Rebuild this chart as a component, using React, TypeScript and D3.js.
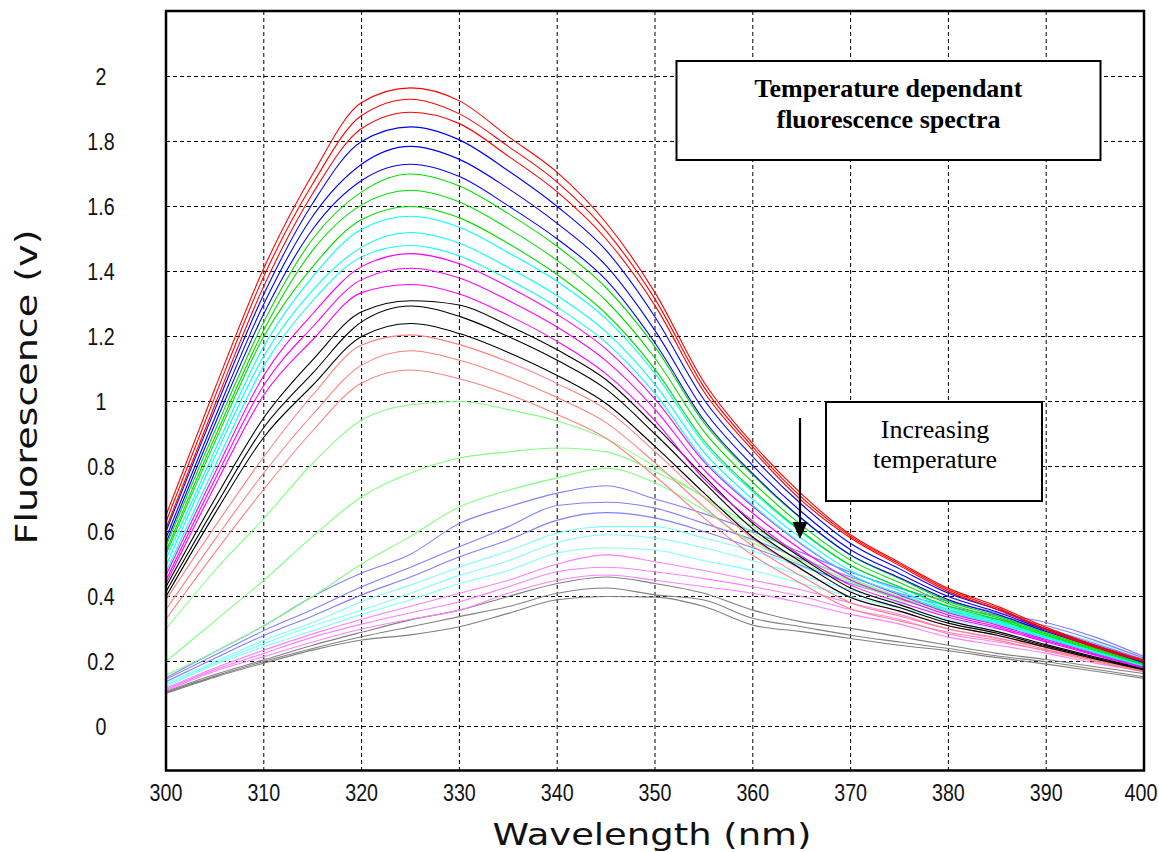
import React from 'react';
import * as d3 from 'd3';

// wavelength samples (nm)
const wavelengths = [300, 305, 310, 315, 320, 325, 330, 335, 340, 345, 350, 355, 360, 365, 370, 375, 380, 385, 390, 395, 400];

const xTicks = [300, 310, 320, 330, 340, 350, 360, 370, 380, 390, 400];
const yTicks = [0, 0.2, 0.4, 0.6, 0.8, 1, 1.2, 1.4, 1.6, 1.8, 2];
const yTickLabels = ['0', '0.2', '0.4', '0.6', '0.8', '1', '1.2', '1.4', '1.6', '1.8', '2'];

// spectra, lowest temperature first
const red1 = [0.65, 1.04, 1.41, 1.70, 1.92, 1.965, 1.925, 1.815, 1.705, 1.55, 1.335, 1.06, 0.87, 0.715, 0.59, 0.505, 0.425, 0.37, 0.305, 0.25, 0.205];
const red2 = [0.63, 1.015, 1.385, 1.67, 1.88, 1.93, 1.885, 1.785, 1.675, 1.525, 1.315, 1.045, 0.86, 0.705, 0.585, 0.50, 0.42, 0.365, 0.30, 0.246, 0.202];
const red3 = [0.61, 0.99, 1.355, 1.64, 1.84, 1.89, 1.855, 1.755, 1.645, 1.50, 1.295, 1.03, 0.85, 0.695, 0.58, 0.495, 0.415, 0.36, 0.297, 0.243, 0.2];
const blue1 = [0.60, 0.975, 1.33, 1.61, 1.80, 1.845, 1.805, 1.71, 1.60, 1.465, 1.26, 1.006, 0.83, 0.683, 0.563, 0.485, 0.41, 0.36, 0.30, 0.25, 0.2];
const blue2 = [0.58, 0.95, 1.30, 1.57, 1.73, 1.785, 1.745, 1.655, 1.548, 1.418, 1.218, 0.973, 0.803, 0.66, 0.544, 0.47, 0.40, 0.352, 0.296, 0.247, 0.198];
const blue3 = [0.565, 0.93, 1.27, 1.53, 1.68, 1.73, 1.692, 1.602, 1.50, 1.374, 1.18, 0.943, 0.778, 0.64, 0.528, 0.458, 0.39, 0.345, 0.292, 0.244, 0.196];
const green1 = [0.555, 0.91, 1.245, 1.50, 1.645, 1.70, 1.663, 1.578, 1.477, 1.35, 1.168, 0.935, 0.774, 0.638, 0.527, 0.455, 0.385, 0.34, 0.288, 0.24, 0.194];
const green2 = [0.54, 0.89, 1.22, 1.465, 1.605, 1.65, 1.614, 1.532, 1.434, 1.31, 1.133, 0.908, 0.751, 0.619, 0.512, 0.443, 0.378, 0.335, 0.284, 0.237, 0.192];
const green3 = [0.53, 0.875, 1.20, 1.415, 1.56, 1.60, 1.565, 1.486, 1.39, 1.27, 1.099, 0.88, 0.728, 0.60, 0.496, 0.43, 0.37, 0.33, 0.28, 0.234, 0.19];
const cyan1 = [0.515, 0.85, 1.17, 1.384, 1.53, 1.57, 1.536, 1.458, 1.369, 1.254, 1.086, 0.871, 0.722, 0.597, 0.495, 0.428, 0.366, 0.325, 0.277, 0.231, 0.189];
const cyan2 = [0.495, 0.83, 1.14, 1.343, 1.475, 1.52, 1.487, 1.412, 1.325, 1.214, 1.052, 0.844, 0.699, 0.578, 0.479, 0.418, 0.36, 0.32, 0.274, 0.229, 0.187];
const cyan3 = [0.475, 0.80, 1.11, 1.31, 1.445, 1.48, 1.448, 1.376, 1.29, 1.181, 1.024, 0.821, 0.681, 0.562, 0.466, 0.408, 0.354, 0.316, 0.271, 0.227, 0.186];
const magenta1 = [0.465, 0.78, 1.08, 1.27, 1.415, 1.455, 1.424, 1.353, 1.268, 1.161, 1.007, 0.815, 0.677, 0.56, 0.466, 0.405, 0.35, 0.312, 0.268, 0.225, 0.184];
const magenta2 = [0.45, 0.76, 1.05, 1.23, 1.375, 1.41, 1.38, 1.311, 1.229, 1.125, 0.976, 0.79, 0.656, 0.543, 0.451, 0.395, 0.343, 0.307, 0.264, 0.222, 0.182];
const magenta3 = [0.44, 0.74, 1.02, 1.19, 1.335, 1.36, 1.331, 1.265, 1.185, 1.085, 0.941, 0.762, 0.632, 0.524, 0.435, 0.383, 0.336, 0.302, 0.26, 0.219, 0.18];
const black1 = [0.43, 0.70, 0.95, 1.128, 1.276, 1.31, 1.297, 1.234, 1.159, 1.067, 0.925, 0.771, 0.625, 0.519, 0.426, 0.375, 0.325, 0.292, 0.252, 0.214, 0.178];
const black2 = [0.415, 0.675, 0.92, 1.087, 1.245, 1.294, 1.262, 1.2, 1.127, 1.038, 0.9, 0.751, 0.608, 0.505, 0.414, 0.366, 0.318, 0.287, 0.248, 0.211, 0.176];
const black3 = [0.40, 0.655, 0.89, 1.05, 1.20, 1.24, 1.209, 1.151, 1.08, 0.994, 0.862, 0.719, 0.583, 0.484, 0.397, 0.355, 0.31, 0.281, 0.244, 0.208, 0.174];
const salmon1 = [0.39, 0.615, 0.83, 1.02, 1.174, 1.205, 1.175, 1.122, 1.055, 0.975, 0.846, 0.705, 0.578, 0.482, 0.398, 0.355, 0.31, 0.28, 0.242, 0.206, 0.172];
const salmon2 = [0.36, 0.575, 0.78, 0.96, 1.112, 1.156, 1.127, 1.076, 1.012, 0.935, 0.811, 0.676, 0.555, 0.462, 0.381, 0.34, 0.30, 0.273, 0.237, 0.203, 0.17];
const salmon3 = [0.33, 0.535, 0.73, 0.91, 1.057, 1.097, 1.07, 1.022, 0.96, 0.887, 0.77, 0.642, 0.527, 0.439, 0.362, 0.325, 0.29, 0.265, 0.232, 0.2, 0.168];
const lightGreen1 = [0.30, 0.48, 0.64, 0.81, 0.943, 0.99, 1.0, 0.975, 0.94, 0.885, 0.80, 0.705, 0.615, 0.522, 0.455, 0.40, 0.36, 0.325, 0.29, 0.25, 0.20];
const lightGreen2 = [0.20, 0.325, 0.45, 0.585, 0.707, 0.78, 0.826, 0.845, 0.857, 0.845, 0.784, 0.707, 0.595, 0.51, 0.45, 0.395, 0.355, 0.32, 0.285, 0.245, 0.195];
const lightGreen3 = [0.158, 0.23, 0.31, 0.40, 0.50, 0.585, 0.676, 0.727, 0.765, 0.795, 0.75, 0.666, 0.565, 0.50, 0.445, 0.39, 0.35, 0.315, 0.28, 0.24, 0.19];
const lightBlue1 = [0.15, 0.23, 0.31, 0.40, 0.472, 0.53, 0.625, 0.676, 0.718, 0.741, 0.70, 0.655, 0.60, 0.535, 0.475, 0.425, 0.385, 0.35, 0.32, 0.275, 0.215];
const lightBlue2 = [0.145, 0.22, 0.295, 0.36, 0.43, 0.49, 0.553, 0.615, 0.68, 0.69, 0.672, 0.625, 0.575, 0.515, 0.46, 0.41, 0.37, 0.34, 0.31, 0.265, 0.21];
const lightBlue3 = [0.138, 0.21, 0.28, 0.34, 0.405, 0.46, 0.522, 0.574, 0.635, 0.658, 0.642, 0.60, 0.55, 0.495, 0.44, 0.395, 0.355, 0.33, 0.30, 0.255, 0.205];
const lightCyan1 = [0.132, 0.20, 0.265, 0.32, 0.384, 0.435, 0.49, 0.54, 0.595, 0.615, 0.615, 0.58, 0.54, 0.49, 0.44, 0.40, 0.36, 0.33, 0.30, 0.26, 0.21];
const lightCyan2 = [0.127, 0.195, 0.255, 0.31, 0.358, 0.41, 0.465, 0.51, 0.566, 0.59, 0.58, 0.55, 0.51, 0.465, 0.42, 0.38, 0.345, 0.315, 0.285, 0.25, 0.205];
const lightCyan3 = [0.122, 0.19, 0.245, 0.295, 0.345, 0.39, 0.44, 0.48, 0.534, 0.55, 0.543, 0.51, 0.48, 0.44, 0.40, 0.365, 0.33, 0.30, 0.275, 0.24, 0.20];
const lightMagenta1 = [0.118, 0.18, 0.235, 0.285, 0.33, 0.37, 0.41, 0.45, 0.50, 0.528, 0.507, 0.48, 0.45, 0.42, 0.38, 0.345, 0.30, 0.27, 0.245, 0.215, 0.18];
const lightMagenta2 = [0.114, 0.175, 0.225, 0.275, 0.315, 0.35, 0.384, 0.43, 0.476, 0.49, 0.476, 0.455, 0.43, 0.40, 0.36, 0.33, 0.285, 0.26, 0.235, 0.205, 0.175];
const lightMagenta3 = [0.11, 0.17, 0.215, 0.26, 0.30, 0.33, 0.358, 0.41, 0.45, 0.466, 0.45, 0.43, 0.41, 0.38, 0.345, 0.315, 0.275, 0.25, 0.225, 0.195, 0.17];
const gray1 = [0.108, 0.16, 0.205, 0.25, 0.29, 0.328, 0.358, 0.40, 0.44, 0.46, 0.44, 0.41, 0.358, 0.322, 0.302, 0.276, 0.25, 0.225, 0.206, 0.184, 0.163];
const gray2 = [0.105, 0.155, 0.20, 0.24, 0.276, 0.307, 0.338, 0.369, 0.41, 0.426, 0.405, 0.389, 0.333, 0.307, 0.281, 0.26, 0.24, 0.217, 0.199, 0.176, 0.153];
const gray3 = [0.102, 0.152, 0.195, 0.235, 0.266, 0.282, 0.307, 0.348, 0.39, 0.40, 0.398, 0.369, 0.312, 0.292, 0.271, 0.25, 0.233, 0.212, 0.192, 0.17, 0.148];

const series = [
  { group: 'red', values: red1 }, { group: 'red', values: red2 }, { group: 'red', values: red3 },
  { group: 'blue', values: blue1 }, { group: 'blue', values: blue2 }, { group: 'blue', values: blue3 },
  { group: 'green', values: green1 }, { group: 'green', values: green2 }, { group: 'green', values: green3 },
  { group: 'cyan', values: cyan1 }, { group: 'cyan', values: cyan2 }, { group: 'cyan', values: cyan3 },
  { group: 'magenta', values: magenta1 }, { group: 'magenta', values: magenta2 }, { group: 'magenta', values: magenta3 },
  { group: 'black', values: black1 }, { group: 'black', values: black2 }, { group: 'black', values: black3 },
  { group: 'salmon', values: salmon1 }, { group: 'salmon', values: salmon2 }, { group: 'salmon', values: salmon3 },
  { group: 'lightGreen', values: lightGreen1 }, { group: 'lightGreen', values: lightGreen2 }, { group: 'lightGreen', values: lightGreen3 },
  { group: 'lightBlue', values: lightBlue1 }, { group: 'lightBlue', values: lightBlue2 }, { group: 'lightBlue', values: lightBlue3 },
  { group: 'lightCyan', values: lightCyan1 }, { group: 'lightCyan', values: lightCyan2 }, { group: 'lightCyan', values: lightCyan3 },
  { group: 'lightMagenta', values: lightMagenta1 }, { group: 'lightMagenta', values: lightMagenta2 }, { group: 'lightMagenta', values: lightMagenta3 },
  { group: 'gray', values: gray1 }, { group: 'gray', values: gray2 }, { group: 'gray', values: gray3 },
];

const groupColors: Record<string, string> = {
  red: '#ff0000',
  blue: '#0000ff',
  green: '#00e000',
  cyan: '#00ffff',
  magenta: '#ff00ff',
  black: '#000000',
  salmon: '#ff8080',
  lightGreen: '#80ff80',
  lightBlue: '#8080ff',
  lightCyan: '#80ffff',
  lightMagenta: '#ff80ff',
  gray: '#808080',
};

export default function App() {
  const width = 1159;
  const height = 852;
  const left = 166;
  const right = 1144;
  const top = 11;
  const bottom = 770.5;

  const x = d3.scaleLinear().domain([300, 400]).range([left, right]);
  const y = d3.scaleLinear().domain([0, 2]).range([726.5, 76.5]);

  const line = d3
    .line<number>()
    .x((_, i) => x(wavelengths[i]))
    .y((d) => y(d))
    .curve(d3.curveMonotoneX);

  const tickFont = 'Liberation Sans, Arial, sans-serif';
  const titleFont = 'DejaVu Sans, Verdana, sans-serif';
  const serif = 'Liberation Serif, Times New Roman, serif';

  // draw last series first so the red ones end up on top
  const drawOrder = series.slice().reverse();

  return (
    <svg
      width={width}
      height={height}
      style={{ position: 'absolute', left: 0, top: 0, background: '#fff' }}
    >
      <defs>
        <clipPath id="plot-area">
          <rect x={left} y={top} width={right - left} height={bottom - top} />
        </clipPath>
      </defs>
      <rect x={0} y={0} width={width} height={height} fill="#fff" />

      {/* grid */}
      <g stroke="#000" strokeWidth={1} strokeDasharray="4,3">
        {xTicks.slice(1, -1).map((t) => (
          <line key={'gx' + t} x1={x(t)} x2={x(t)} y1={top} y2={bottom} />
        ))}
        {yTicks.map((t) => (
          <line key={'gy' + t} x1={left} x2={right} y1={y(t)} y2={y(t)} />
        ))}
      </g>

      {/* spectra */}
      <g clipPath="url(#plot-area)" fill="none" strokeWidth={1.1}>
        {drawOrder.map((s, i) => (
          <path key={i} d={line(s.values) || ''} stroke={groupColors[s.group]} />
        ))}
      </g>

      {/* frame */}
      <rect
        x={left}
        y={top}
        width={right - left}
        height={bottom - top}
        fill="none"
        stroke="#000"
        strokeWidth={2.5}
      />

      {/* x tick labels */}
      {xTicks.map((t, i) => (
        <g
          key={'xl' + t}
          transform={`translate(${x(t) - (i === xTicks.length - 1 ? 3 : 0)},800.5) scale(0.82,1)`}
        >
          <text textAnchor="middle" fontFamily={tickFont} fontSize={24} fill="#111">
            {t}
          </text>
        </g>
      ))}

      {/* y tick labels */}
      {yTicks.map((t, i) => (
        <g key={'yl' + t} transform={`translate(101,${y(t) + 8.5}) scale(0.82,1)`}>
          <text textAnchor="middle" fontFamily={tickFont} fontSize={24} fill="#111">
            {yTickLabels[i]}
          </text>
        </g>
      ))}

      {/* axis titles */}
      <text
        x={652}
        y={845}
        textAnchor="middle"
        fontFamily={titleFont}
        fontSize={31}
        textLength={319}
        lengthAdjust="spacingAndGlyphs"
        fill="#111"
      >
        Wavelength (nm)
      </text>
      <text
        transform="translate(37,387) rotate(-90)"
        textAnchor="middle"
        fontFamily={titleFont}
        fontSize={31}
        textLength={315}
        lengthAdjust="spacingAndGlyphs"
        fill="#111"
      >
        Fluorescence (v)
      </text>

      {/* title box */}
      <rect x={676.5} y={61} width={424} height={99} fill="#fff" stroke="#000" strokeWidth={2} />
      <text x={888.5} y={97} textAnchor="middle" fontFamily={serif} fontWeight="bold" fontSize={26}>
        Temperature dependant
      </text>
      <text x={888.5} y={128} textAnchor="middle" fontFamily={serif} fontWeight="bold" fontSize={26}>
        fluorescence spectra
      </text>

      {/* annotation box */}
      <rect x={826} y={402} width={216} height={99} fill="#fff" stroke="#000" strokeWidth={2} />
      <text x={935} y={438} textAnchor="middle" fontFamily={serif} fontSize={26}>
        Increasing
      </text>
      <text x={935} y={468} textAnchor="middle" fontFamily={serif} fontSize={26}>
        temperature
      </text>

      {/* arrow */}
      <line x1={800} x2={800} y1={418} y2={526} stroke="#000" strokeWidth={2.2} />
      <path d="M792.5,522 L807.5,522 L800,539 Z" fill="#000" />
    </svg>
  );
}
